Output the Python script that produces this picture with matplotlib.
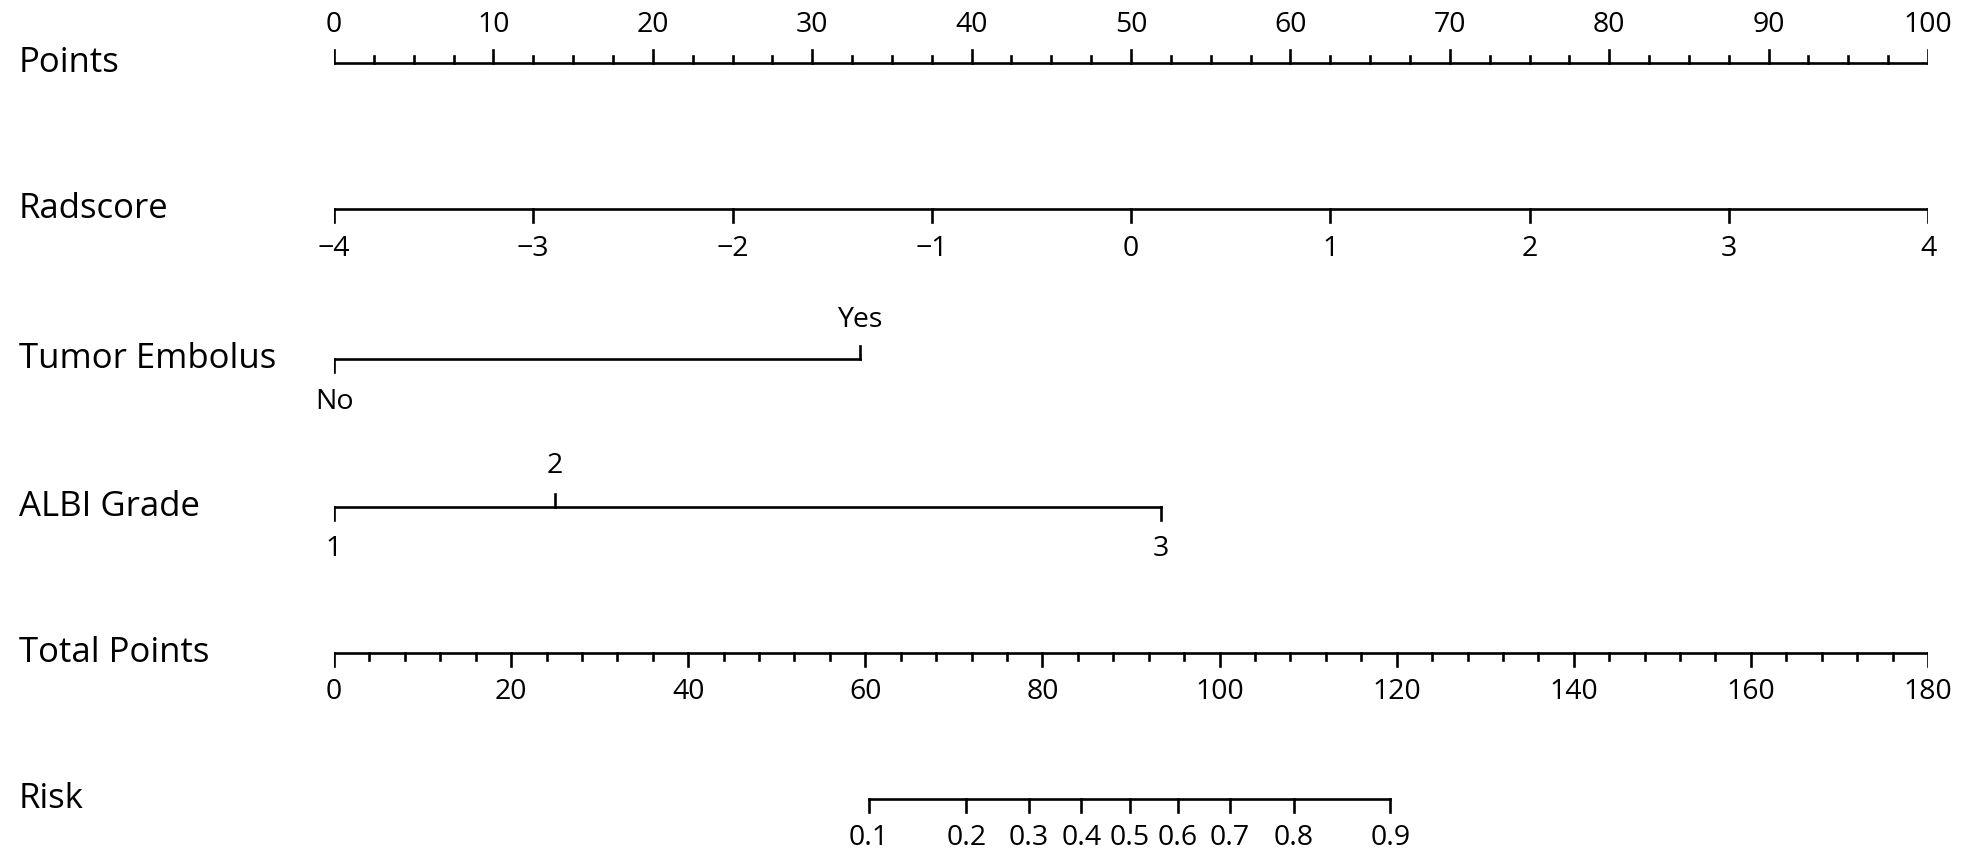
import matplotlib
matplotlib.use("Agg")
import matplotlib.pyplot as plt
import numpy as np

plt.rcParams['font.family'] = ['Open Sans', 'DejaVu Sans']

# ---- data ----
row_labels = ["Points", "Radscore", "Tumor Embolus", "ALBI Grade", "Total Points", "Risk"]

points_major = [0, 10, 20, 30, 40, 50, 60, 70, 80, 90, 100]
points_minor_step = 2.5

radscore_ticks = [-4, -3, -2, -1, 0, 1, 2, 3, 4]
radscore_range = (-4, 4)

tumor_levels = ["No", "Yes"]
tumor_points = [0.0, 33.0]

albi_levels = ["1", "2", "3"]
albi_points = [0.0, 13.85, 51.9]

total_major = [0, 20, 40, 60, 80, 100, 120, 140, 160, 180]
total_minor_step = 4

risk_labels = ["0.1", "0.2", "0.3", "0.4", "0.5", "0.6", "0.7", "0.8", "0.9"]
risk_total_points = [60.4, 71.4, 78.5, 84.4, 89.9, 95.3, 101.2, 108.4, 119.3]

# ---- layout ----
W, H = 1969, 865
fig = plt.figure(figsize=(W / 100, H / 100), dpi=100)
x0, x1 = 334, 1928
pos = [x0 / W, 0, (x1 - x0) / W, 1]

def make_ax(xlim):
    ax = fig.add_axes(pos, facecolor='none')
    ax.set_xlim(*xlim)
    ax.set_ylim(H, 0)
    ax.axis('off')
    return ax

ax_pts = make_ax((0, 100))
ax_rad = make_ax(radscore_range)
ax_tot = make_ax((0, 180))

lw = 1.9
col = 'black'
lab_fs = 25
tick_fs = 20.5
major_len = 13
minor_len = 7

y_rows = [63, 209, 359, 507, 653, 799]

# row labels
for lab, y in zip(row_labels, y_rows):
    fig.text(19 / W, 1 - y / H, lab, fontsize=lab_fs, ha='left', va='center', color=col)

# Points axis (ticks up)
y = y_rows[0]
ax_pts.plot([0, 100], [y, y], color=col, lw=lw, solid_capstyle='butt')
for v in np.arange(0, 100 + 1e-9, points_minor_step):
    L = major_len if any(abs(v - m) < 1e-9 for m in points_major) else minor_len
    ax_pts.plot([v, v], [y, y - L], color=col, lw=lw)
for v in points_major:
    ax_pts.text(v, 25, str(v), fontsize=tick_fs, ha='center', va='center')

# Radscore (ticks down)
y = y_rows[1]
ax_rad.plot(radscore_range, [y, y], color=col, lw=lw)
for v in radscore_ticks:
    ax_rad.plot([v, v], [y, y + major_len], color=col, lw=lw)
    ax_rad.text(v, 249, str(v).replace('-', '\u2212'), fontsize=tick_fs, ha='center', va='center')

# Tumor Embolus
y = y_rows[2]
ax_pts.plot([min(tumor_points), max(tumor_points)], [y, y], color=col, lw=lw)
ax_pts.plot([tumor_points[0]] * 2, [y, y + major_len], color=col, lw=lw)
ax_pts.text(tumor_points[0], 402, tumor_levels[0], fontsize=tick_fs, ha='center', va='center')
ax_pts.plot([tumor_points[1]] * 2, [y, y - major_len], color=col, lw=lw)
ax_pts.text(tumor_points[1], 320, tumor_levels[1], fontsize=tick_fs, ha='center', va='center')

# ALBI Grade
y = y_rows[3]
ax_pts.plot([min(albi_points), max(albi_points)], [y, y], color=col, lw=lw)
for lev, p in zip(albi_levels, albi_points):
    if lev == "2":
        ax_pts.plot([p, p], [y, y - major_len], color=col, lw=lw)
        ax_pts.text(p, 466, lev, fontsize=tick_fs, ha='center', va='center')
    else:
        ax_pts.plot([p, p], [y, y + major_len], color=col, lw=lw)
        ax_pts.text(p, 549, lev, fontsize=tick_fs, ha='center', va='center')

# Total Points (ticks down)
y = y_rows[4]
ax_tot.plot([0, 180], [y, y], color=col, lw=lw)
for v in np.arange(0, 180 + 1e-9, total_minor_step):
    L = major_len if any(abs(v - m) < 1e-9 for m in total_major) else minor_len
    ax_tot.plot([v, v], [y, y + L], color=col, lw=lw)
for v in total_major:
    ax_tot.text(v, 692, str(v), fontsize=tick_fs, ha='center', va='center')

# Risk
y = y_rows[5]
ax_tot.plot([min(risk_total_points), max(risk_total_points)], [y, y], color=col, lw=lw)
for lab, p in zip(risk_labels, risk_total_points):
    ax_tot.plot([p, p], [y, y + major_len], color=col, lw=lw)
    ax_tot.text(p, 838, lab, fontsize=tick_fs, ha='center', va='center')

fig.savefig("out.png", dpi=100)
